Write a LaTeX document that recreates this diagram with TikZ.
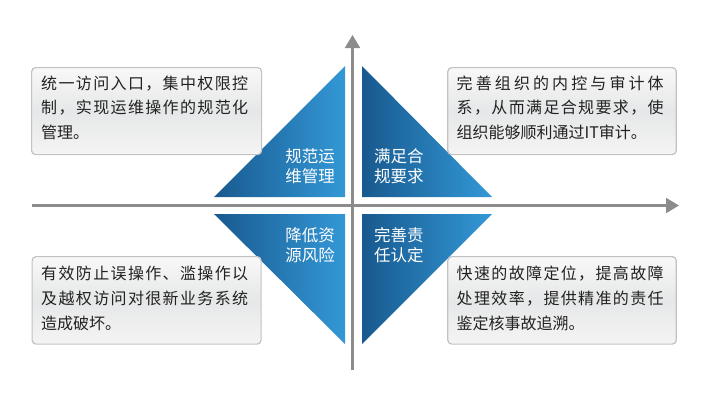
\documentclass[tikz,border=0pt]{standalone}
\usepackage{fontspec}
\setmainfont{Noto Sans CJK SC}
\usetikzlibrary{arrows.meta}
\definecolor{axisgray}{HTML}{8C8C8C}
\definecolor{tridark}{HTML}{18598F}
\definecolor{trilight}{HTML}{3398D6}
\definecolor{boxline}{HTML}{C2C2C2}
\definecolor{boxtop}{HTML}{F8F8F8}
\definecolor{boxmid}{HTML}{E6E7E8}
\definecolor{boxbot}{HTML}{F4F4F4}
\definecolor{txt}{HTML}{222222}
\makeatletter
\def\jst#1{\makebox[207bp][s]{\jst@a#1\relax}}
\def\jst@a#1{#1\jst@b}
\def\jst@b#1{\ifx\relax#1\else\hfil#1\expandafter\jst@b\fi}
\makeatother
\begin{document}
\begin{tikzpicture}[x=1bp,y=-1bp,
  axisline/.style={draw=axisgray,line width=2.2bp,-{Triangle[length=13bp,width=15bp]}},
  tri/.style={left color=tridark,right color=trilight,draw=none},
  box/.style={draw=boxline,line width=1.2bp,rounded corners=4bp,top color=boxtop,bottom color=boxbot,middle color=boxmid,minimum width=230bp,minimum height=87bp,anchor=north west,inner sep=0pt},
  line/.style={inner sep=0pt,anchor=base west,text=txt,font=\fontsize{16bp}{20bp}\selectfont},
  trilabel/.style={inner sep=0pt,text=white,font=\fontsize{16.5bp}{20bp}\selectfont}
]
\useasboundingbox (0,0) rectangle (707,404);
% axes
\coordinate (hs) at (32,205.5);
\coordinate (he) at (679,205.5);
\coordinate (vs) at (352.5,370);
\coordinate (ve) at (352.5,35);
\draw[axisline] (hs) -- (he);
\draw[axisline] (vs) -- (ve);
% triangles
\path[tri] (214,197) -- (345,66) -- (345,197) -- cycle;
\path[tri] (362,66) -- (362,197) -- (492,197) -- cycle;
\path[tri] (214,214) -- (345,214) -- (345,344) -- cycle;
\path[tri] (362,214) -- (492,214) -- (362,344) -- cycle;
% triangle labels
\node[trilabel,anchor=base east] (t1a) at (335,162.3) {规范运};
\node[trilabel,anchor=base east] (t1b) at (335,182.3) {维管理};
\node[trilabel,anchor=base west] (t2a) at (374,162.3) {满足合};
\node[trilabel,anchor=base west] (t2b) at (374,182.3) {规要求};
\node[trilabel,anchor=base east] (t3a) at (335,241.3) {降低资};
\node[trilabel,anchor=base east] (t3b) at (335,261.8) {源风险};
\node[trilabel,anchor=base west] (t4a) at (374,241.3) {完善责};
\node[trilabel,anchor=base west] (t4b) at (374,261.8) {任认定};
% boxes
\node[box,minimum width=230bp,minimum height=87bp] (b1) at (31,67) {};
\node[box,minimum width=228.5bp,minimum height=87bp] (b2) at (447.2,67) {};
\node[box,minimum width=229bp,minimum height=87.5bp] (b3) at (31.5,256) {};
\node[box,minimum width=228.5bp,minimum height=87.5bp] (b4) at (447.2,256) {};
% box texts
\node[line] (l11) at (41,89) {\jst{统一访问入口，集中权限控}};
\node[line] (l12) at (41,113.7) {\jst{制，实现运维操作的规范化}};
\node[line] (l13) at (41,138.4) {管理。};
\node[line] (l21) at (456.5,89) {\jst{完善组织的内控与审计体}};
\node[line] (l22) at (456.5,113.7) {\jst{系，从而满足合规要求，使}};
\node[line] (l23) at (456.5,138.4) {组织能够顺利通过IT审计。};
\node[line] (l31) at (41,279) {\jst{有效防止误操作、滥操作以}};
\node[line] (l32) at (41,304) {\jst{及越权访问对很新业务系统}};
\node[line] (l33) at (41,329) {造成破坏。};
\node[line] (l41) at (456.5,279) {\jst{快速的故障定位，提高故障}};
\node[line] (l42) at (456.5,304) {\jst{处理效率，提供精准的责任}};
\node[line] (l43) at (456.5,329) {鉴定核事故追溯。};
\end{tikzpicture}
\end{document}
